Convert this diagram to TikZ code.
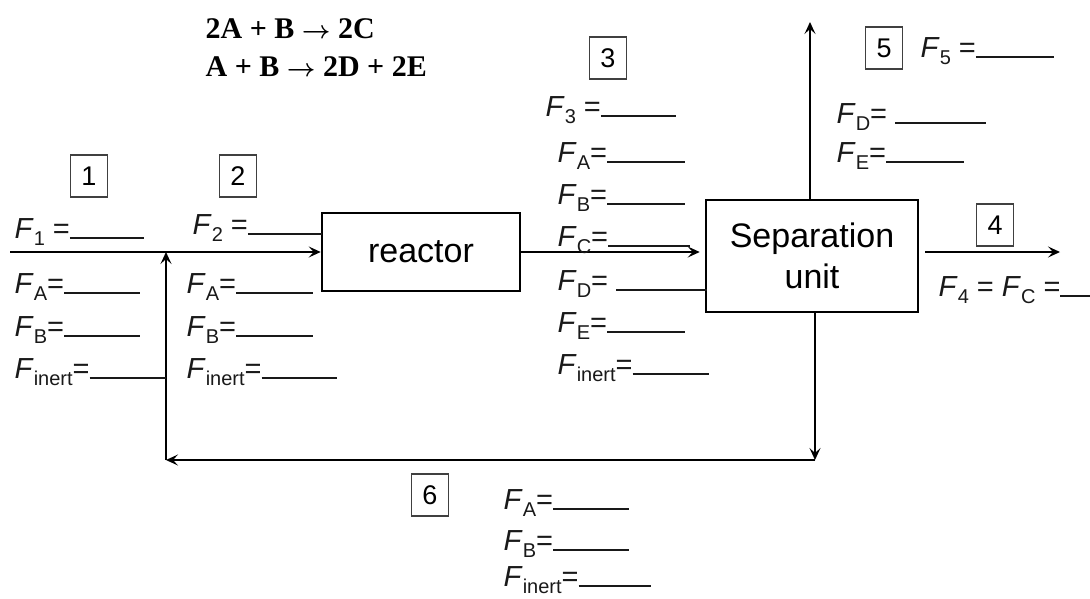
\documentclass[tikz,border=0pt]{standalone}
\usepackage{fontspec}
\setmainfont{Liberation Sans}
\newfontfamily\eqfont{Liberation Serif}
\usetikzlibrary{arrows.meta}
\newcommand\sbs[1]{\raisebox{-0.27em}{\fontsize{20}{20}\selectfont #1}}
\newcommand\fv[1]{\textit{F}\sbs{#1}}
\newcommand\blk[1]{\rule[-1pt]{#1pt}{1.6pt}}
\begin{document}
\begin{tikzpicture}[x=1pt,y=-1pt,line width=1.4pt,
  lbl/.style={anchor=base west,inner sep=0pt,font=\fontsize{29}{32}\selectfont,text=black!90},
  numbox/.style={draw=black!75,line width=1.3pt,minimum width=37pt,minimum height=42pt,inner sep=0pt,font=\fontsize{27}{29}\selectfont},
  unit/.style={draw,line width=2.6pt,font=\fontsize{34}{41}\selectfont,align=center,inner sep=0pt},
  eqn/.style={anchor=base west,inner sep=0pt,font=\eqfont\bfseries\boldmath\fontsize{30}{33}\selectfont},
  flow/.style={-{Stealth[length=12pt,width=11pt,inset=5pt]},line width=1.4pt}]
\useasboundingbox (0,0) rectangle (1090,598);
% units
\node[unit,minimum width=198pt,minimum height=78pt] (reactor) at (421,252) {reactor};
\node[unit,minimum width=212pt,minimum height=112pt] (sep) at (812,256) {Separation\\unit};
% equations
\node[eqn] (eq1) at (205,38) {2A + B $\rightarrow$ 2C};
\node[eqn] (eq2) at (205,76) {A + B $\rightarrow$ 2D + 2E};
% stream number boxes
\node[numbox] (n1) at (89,176) {1};
\node[numbox] (n2) at (238,176) {2};
\node[numbox] (n3) at (608,58) {3};
\node[numbox] (n4) at (995,225) {4};
\node[numbox] (n5) at (884,48) {5};
\node[numbox] (n6) at (430,495) {6};
% coordinates
\coordinate (feed) at (10,252);
\coordinate (mix) at (166,252);
\coordinate (out4) at (1060,252);
\coordinate (out5) at (810,22);
\coordinate (r1) at (815,460);
\coordinate (r2) at (166,460);
% streams
\draw[flow] (feed) -- (reactor.west);
\draw[flow,shorten >=5pt] (reactor.east) -- (sep.west |- reactor.east);
\draw[flow] (sep.east |- out4) ++(6,0) -- (out4);
\draw[flow] (sep.north -| out5) -- (out5);
\draw[flow] (sep.south -| r1) -- (r1);
\draw[flow] (r1) -- (r2);
\draw[flow] (r2) -- (mix);
% stream 1
\node[lbl] (f1) at (14,238) {\fv{1} =\blk{74}};
\node[lbl] (f1a) at (14,293) {\fv{A}=\blk{76}};
\node[lbl] (f1b) at (14,336) {\fv{B}=\blk{76}};
\node[lbl] (f1i) at (14,378) {\fv{inert}=\blk{76}};
% stream 2
\node[lbl] (f2) at (192,234) {\fv{2} =\blk{74}};
\node[lbl] (f2a) at (186,293) {\fv{A}=\blk{77}};
\node[lbl] (f2b) at (186,336) {\fv{B}=\blk{77}};
\node[lbl] (f2i) at (186,378) {\fv{inert}=\blk{75}};
% stream 3
\node[lbl] (f3) at (545,116) {\fv{3} =\blk{75}};
\node[lbl] (f3a) at (557,162) {\fv{A}=\blk{78}};
\node[lbl] (f3b) at (557,204) {\fv{B}=\blk{78}};
\node[lbl] (f3c) at (557,246) {\fv{C}=\blk{82}};
\node[lbl] (f3d) at (557,290) {\fv{D}= \blk{91}};
\node[lbl] (f3e) at (557,332) {\fv{E}=\blk{78}};
\node[lbl] (f3i) at (557,374) {\fv{inert}=\blk{76}};
% stream 4
\node[lbl] (f4) at (938,296) {\fv{4} = \fv{C} =\blk{40}};
% stream 5
\node[lbl] (f5) at (920,57) {\fv{5} =\blk{78}};
\node[lbl] (f5d) at (836,123) {\fv{D}= \blk{91}};
\node[lbl] (f5e) at (836,162) {\fv{E}=\blk{78}};
% stream 6
\node[lbl] (f6a) at (503,509) {\fv{A}=\blk{76}};
\node[lbl] (f6b) at (503,550) {\fv{B}=\blk{76}};
\node[lbl] (f6i) at (503,586) {\fv{inert}=\blk{72}};
\end{tikzpicture}
\end{document}
